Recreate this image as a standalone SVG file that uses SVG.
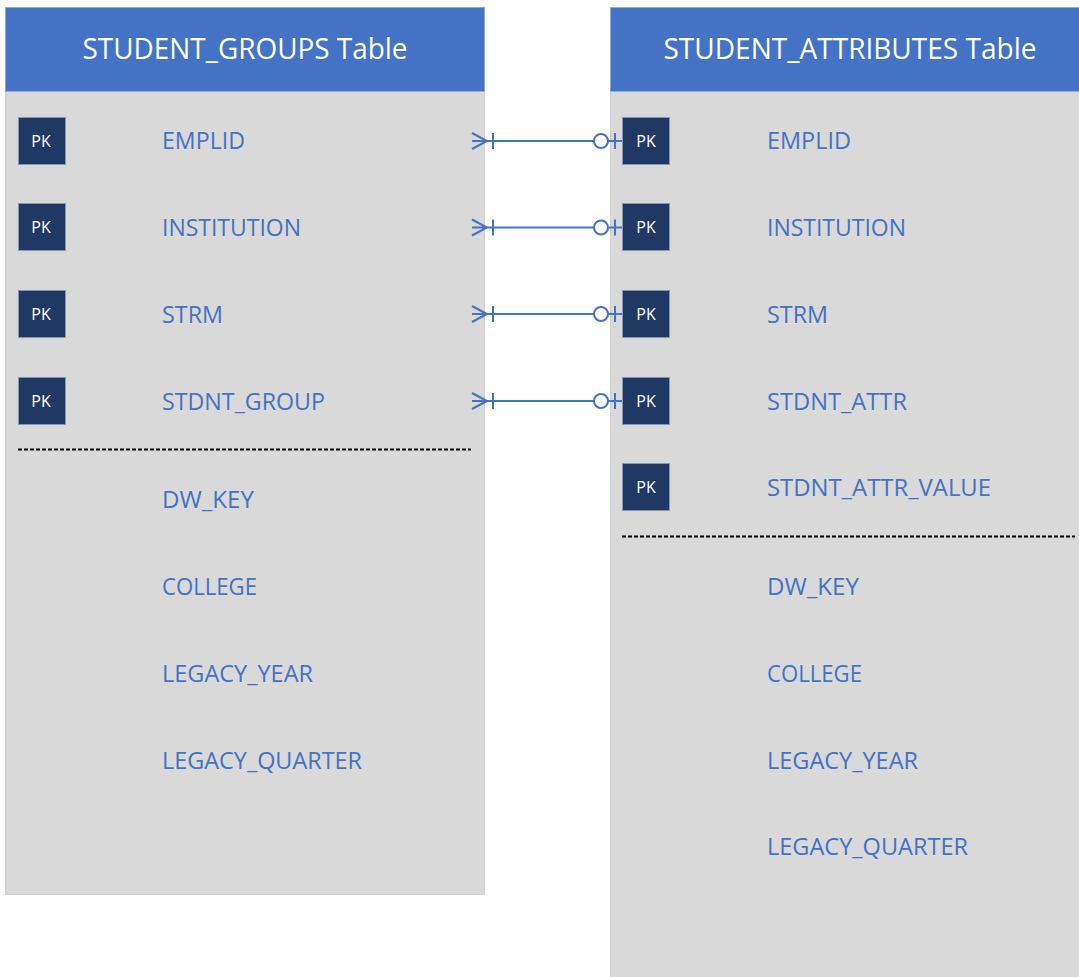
<svg xmlns="http://www.w3.org/2000/svg" width="1079" height="977" viewBox="0 0 1079 977">
<defs>
<style>
.body{fill:#D9D9D9;stroke:#CFCFCF;stroke-width:1}
.hdr{fill:#4472C4;stroke:#8FAADC;stroke-width:1}
.title{font-family:"Open Sans","Liberation Sans",sans-serif;font-size:30px;fill:#FFFFFF;text-anchor:middle}
.pk{fill:#1F3864;stroke:#8497B0;stroke-width:1}
.pkt{font-family:"Open Sans","Liberation Sans",sans-serif;font-size:16px;fill:#FFFFFF;text-anchor:middle}
.fld{font-family:"Open Sans","Liberation Sans",sans-serif;font-size:23px;fill:#4472C4}
.dash{stroke:#000000;stroke-width:1.8;stroke-dasharray:4 2;fill:none}
.conn{stroke:#4472C4;stroke-width:2;fill:none}
.circ{stroke:#4472C4;stroke-width:2;fill:#FFFFFF}
</style>
</defs>

<g id="student_groups">
<rect class="body" x="5.5" y="7.5" width="479" height="887"/>
<rect class="hdr" x="5.5" y="7.5" width="479" height="84"/>
<text class="title" x="245" y="59" textLength="325" lengthAdjust="spacingAndGlyphs">STUDENT_GROUPS Table</text>
<rect class="pk" x="18.5" y="117.5" width="47" height="47"/><text class="pkt" x="41" y="147">PK</text>
<text class="fld" x="162" y="149" textLength="83" lengthAdjust="spacingAndGlyphs">EMPLID</text>
<rect class="pk" x="18.5" y="203.5" width="47" height="47"/><text class="pkt" x="41" y="233">PK</text>
<text class="fld" x="162" y="236" textLength="139" lengthAdjust="spacingAndGlyphs">INSTITUTION</text>
<rect class="pk" x="18.5" y="290.5" width="47" height="47"/><text class="pkt" x="41" y="320">PK</text>
<text class="fld" x="162" y="323" textLength="61" lengthAdjust="spacingAndGlyphs">STRM</text>
<rect class="pk" x="18.5" y="377.5" width="47" height="47"/><text class="pkt" x="41" y="407">PK</text>
<text class="fld" x="162" y="410" textLength="163" lengthAdjust="spacingAndGlyphs">STDNT_GROUP</text>
<line class="dash" x1="18" y1="449.5" x2="471" y2="449.5"/>
<text class="fld" x="162" y="508" textLength="92" lengthAdjust="spacingAndGlyphs">DW_KEY</text>
<text class="fld" x="162" y="595" textLength="95" lengthAdjust="spacingAndGlyphs">COLLEGE</text>
<text class="fld" x="162" y="682" textLength="151" lengthAdjust="spacingAndGlyphs">LEGACY_YEAR</text>
<text class="fld" x="162" y="769" textLength="200" lengthAdjust="spacingAndGlyphs">LEGACY_QUARTER</text>
</g>

<g id="student_attributes">
<rect class="body" x="610.5" y="7.5" width="480" height="980"/>
<rect class="hdr" x="610.5" y="7.5" width="480" height="84"/>
<text class="title" x="850" y="59" textLength="373" lengthAdjust="spacingAndGlyphs">STUDENT_ATTRIBUTES Table</text>
<rect class="pk" x="622.5" y="117.5" width="47" height="47"/><text class="pkt" x="646" y="147">PK</text>
<text class="fld" x="767" y="149" textLength="84" lengthAdjust="spacingAndGlyphs">EMPLID</text>
<rect class="pk" x="622.5" y="203.5" width="47" height="47"/><text class="pkt" x="646" y="233">PK</text>
<text class="fld" x="767" y="236" textLength="139" lengthAdjust="spacingAndGlyphs">INSTITUTION</text>
<rect class="pk" x="622.5" y="290.5" width="47" height="47"/><text class="pkt" x="646" y="320">PK</text>
<text class="fld" x="767" y="323" textLength="61" lengthAdjust="spacingAndGlyphs">STRM</text>
<rect class="pk" x="622.5" y="377.5" width="47" height="47"/><text class="pkt" x="646" y="407">PK</text>
<text class="fld" x="767" y="410" textLength="140" lengthAdjust="spacingAndGlyphs">STDNT_ATTR</text>
<rect class="pk" x="622.5" y="463.5" width="47" height="47"/><text class="pkt" x="646" y="493">PK</text>
<text class="fld" x="767" y="496" textLength="224" lengthAdjust="spacingAndGlyphs">STDNT_ATTR_VALUE</text>
<line class="dash" x1="622" y1="536.5" x2="1075" y2="536.5"/>
<text class="fld" x="767" y="595" textLength="92" lengthAdjust="spacingAndGlyphs">DW_KEY</text>
<text class="fld" x="767" y="682" textLength="95" lengthAdjust="spacingAndGlyphs">COLLEGE</text>
<text class="fld" x="767" y="769" textLength="151" lengthAdjust="spacingAndGlyphs">LEGACY_YEAR</text>
<text class="fld" x="767" y="855" textLength="201" lengthAdjust="spacingAndGlyphs">LEGACY_QUARTER</text>
</g>

<g id="connectors">
<g id="c1" transform="translate(0,141)">
<path class="conn" d="M472,-8 L487,0 L472,8 M472,0 L594,0 M493,-8 L493,8 M608,0 L622,0 M615,-8 L615,8"/>
<circle class="circ" cx="601" cy="0" r="7"/>
</g>
<g id="c2" transform="translate(0,227.5)">
<path class="conn" d="M472,-8 L487,0 L472,8 M472,0 L594,0 M493,-8 L493,8 M608,0 L622,0 M615,-8 L615,8"/>
<circle class="circ" cx="601" cy="0" r="7"/>
</g>
<g id="c3" transform="translate(0,314)">
<path class="conn" d="M472,-8 L487,0 L472,8 M472,0 L594,0 M493,-8 L493,8 M608,0 L622,0 M615,-8 L615,8"/>
<circle class="circ" cx="601" cy="0" r="7"/>
</g>
<g id="c4" transform="translate(0,401)">
<path class="conn" d="M472,-8 L487,0 L472,8 M472,0 L594,0 M493,-8 L493,8 M608,0 L622,0 M615,-8 L615,8"/>
<circle class="circ" cx="601" cy="0" r="7"/>
</g>
</g>
</svg>
